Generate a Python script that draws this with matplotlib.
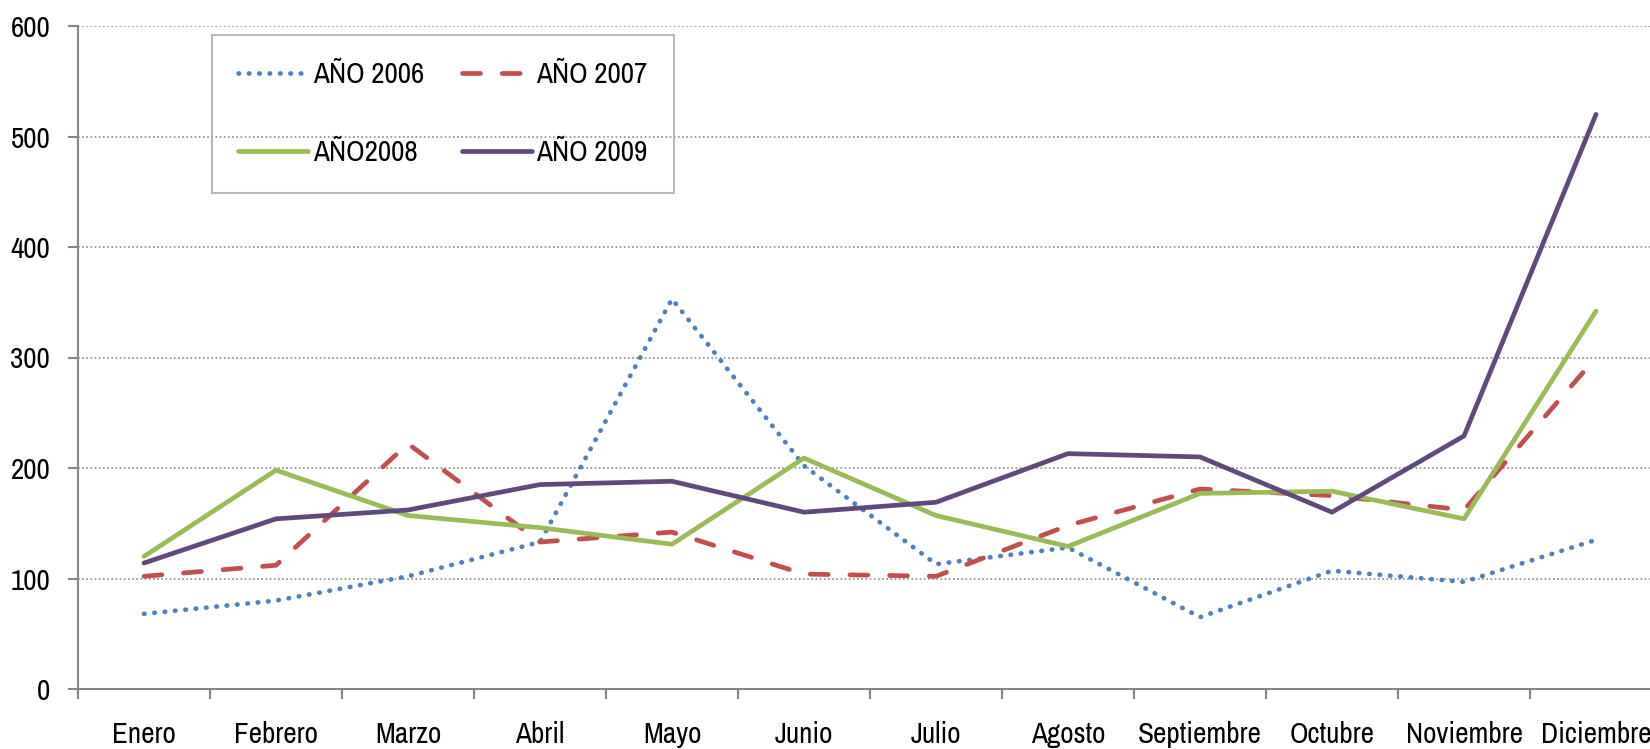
import matplotlib
matplotlib.use("Agg")
import matplotlib.pyplot as plt
from matplotlib import font_manager
import numpy as np

meses = ["Enero", "Febrero", "Marzo", "Abril", "Mayo", "Junio", "Julio",
         "Agosto", "Septiembre", "Octubre", "Noviembre", "Diciembre"]
anio_2006 = [68, 80, 102, 133, 353, 202, 113, 128, 65, 107, 97, 135]
anio_2007 = [102, 112, 222, 133, 142, 104, 102, 148, 181, 175, 162, 300]
anio_2008 = [120, 198, 157, 146, 131, 209, 157, 129, 177, 179, 154, 342]
anio_2009 = [114, 154, 162, 185, 188, 160, 169, 213, 210, 160, 229, 520]
etiquetas = ["AÑO 2006", "AÑO 2007", "AÑO2008", "AÑO 2009"]
y_ticks = [0, 100, 200, 300, 400, 500, 600]

# --- pick a narrow font if one is installed ---
fp = None
size = 17
fonts = font_manager.fontManager.ttflist
def pick(cond):
    for f in fonts:
        if cond(f) and f.style == "normal" and f.weight in (400, "normal", "regular"):
            return f
    return None
cand = pick(lambda f: "Narrow" in f.name and "Liberation" in f.name)
if cand is None:
    cand = pick(lambda f: "Narrow" in f.name or "Condensed" in f.name)
if cand is None:
    cand = pick(lambda f: f.stretch in ("condensed", "semi-condensed") and "Sans" in f.name)
if cand is not None:
    fp = font_manager.FontProperties(fname=cand.fname)
    if "Narrow" in cand.name:
        size = 21
    else:
        size = 19
else:
    fp = font_manager.FontProperties(family=["Liberation Sans", "DejaVu Sans"])
    size = 18
fp.set_size(size)

W, H = 1650, 749
fig = plt.figure(figsize=(W / 100, H / 100), dpi=100)
left = 78 / W
bottom = 1 - 689 / H
top = 1 - 26 / H
ax = fig.add_axes([left, bottom, 1 - left, top - bottom])

x = np.arange(len(meses))
lw = 3.4
l06, = ax.plot(x, anio_2006, color="#4F81BD", lw=lw, linestyle=(0, (0.1, 2.1)),
               dash_capstyle="round", zorder=3)
l07, = ax.plot(x, anio_2007, color="#C0504D", lw=lw, linestyle=(0, (3.8, 4.6)),
               dash_capstyle="round", zorder=3)
l08, = ax.plot(x, anio_2008, color="#9BBB59", lw=lw, solid_capstyle="round", zorder=3)
l09, = ax.plot(x, anio_2009, color="#604A7B", lw=lw, solid_capstyle="round", zorder=3)

ax.set_ylim(0, 600)
ax.set_yticks(y_ticks)
ax.set_yticklabels([str(v) for v in y_ticks], fontproperties=fp)
ax.set_xticks(x)
ax.set_xticklabels(meses, fontproperties=fp)
ax.set_xticks(np.arange(-0.5, 12.0, 1.0), minor=True)
unit_px = 132.0
ax.set_xlim(-0.5, -0.5 + (W - 78) / unit_px)
ax.tick_params(axis="x", which="major", length=0, pad=23)
ax.tick_params(axis="x", which="minor", length=7, width=1.5, color="#868686")
ax.tick_params(axis="y", which="major", length=7, width=1.5, color="#868686", pad=13)

for v in y_ticks[1:]:
    ax.axhline(v, color="#8c8c8c", lw=1.2, linestyle=(0, (1, 1.5)), zorder=1)

for s in ["top", "right"]:
    ax.spines[s].set_visible(False)
for s in ["left", "bottom"]:
    ax.spines[s].set_color("#868686")
    ax.spines[s].set_linewidth(1.5)

# legend laid out row-wise like the reference (matplotlib fills columns first)
handles = [l06, l08, l07, l09]
labels = [etiquetas[0], etiquetas[2], etiquetas[1], etiquetas[3]]
leg = ax.legend(handles, labels, ncol=2, loc="upper left",
                bbox_to_anchor=(212 / W, 1 - 35 / H), bbox_transform=fig.transFigure,
                prop=fp, frameon=True, fancybox=False, borderaxespad=0,
                handlelength=2.4, handletextpad=0.15, columnspacing=1.3,
                labelspacing=1.75, borderpad=0.9)
fr = leg.get_frame()
fr.set_edgecolor("#a6a6a6")
fr.set_linewidth(1.5)
fr.set_facecolor("none")

fig.savefig("out.png", dpi=100)
